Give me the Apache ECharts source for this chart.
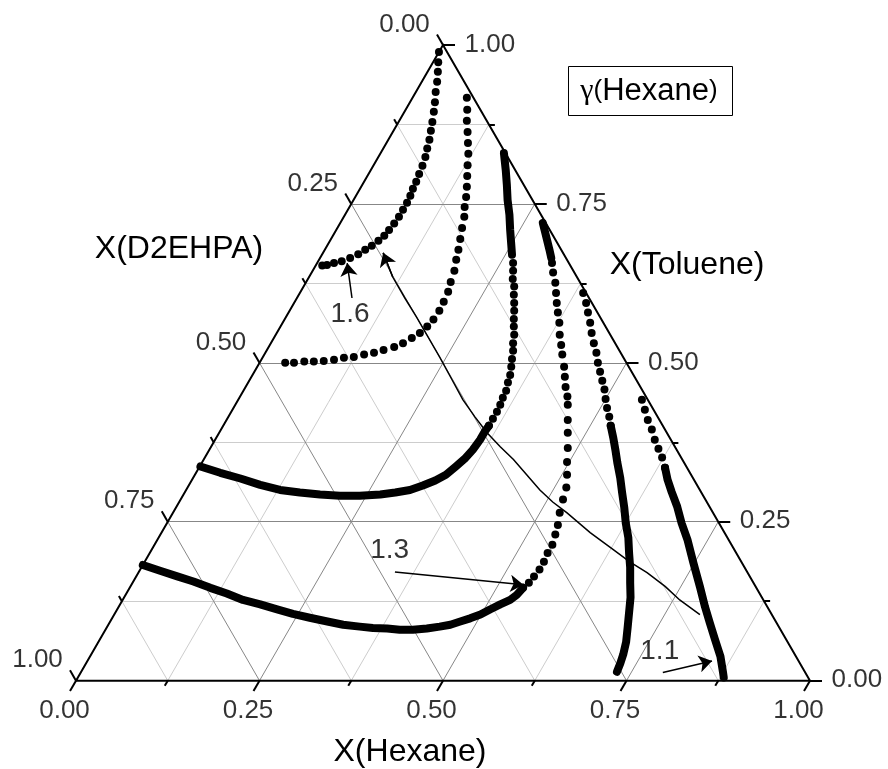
<!DOCTYPE html>
<html>
<head>
<meta charset="utf-8">
<script src="https://cdn.jsdelivr.net/npm/echarts@6/dist/echarts.min.js"></script>
<style>
  html, body { margin: 0; padding: 0; background: #fff; }
  #chart { width: 888px; height: 769px; }
</style>
</head>
<body>
<div id="chart"></div>
<script>
// Ternary compositions are stored as [x(Hexane), x(Toluene)]; x(D2EHPA) = 1 - both.

const tickValues = [0, 0.25, 0.5, 0.75, 1];
const tickLabels = ['0.00', '0.25', '0.50', '0.75', '1.00'];
const minorStep = 0.125;

// iso-activity curves of hexane, gamma = 1.6 ... 1.1
const gamma16Dots = [
  [0.000, 0.989], [0.007, 0.973], [0.014, 0.958], [0.021, 0.942], [0.027, 0.926], [0.034, 0.910],
  [0.040, 0.895], [0.046, 0.879], [0.051, 0.865], [0.056, 0.851], [0.060, 0.837], [0.064, 0.824],
  [0.067, 0.810], [0.069, 0.797], [0.071, 0.785], [0.072, 0.774], [0.074, 0.763], [0.075, 0.752],
  [0.075, 0.741], [0.075, 0.730], [0.074, 0.719], [0.072, 0.709], [0.070, 0.700], [0.066, 0.692],
  [0.061, 0.684], [0.055, 0.678], [0.049, 0.671], [0.041, 0.665], [0.032, 0.660], [0.023, 0.657],
  [0.015, 0.654], [0.009, 0.653]
];

const gamma15Dots = [
  [0.074, 0.917], [0.084, 0.898], [0.092, 0.881], [0.102, 0.863], [0.111, 0.846], [0.120, 0.829],
  [0.128, 0.811], [0.136, 0.794], [0.144, 0.777], [0.151, 0.761], [0.157, 0.745], [0.164, 0.730],
  [0.170, 0.712], [0.176, 0.695], [0.182, 0.678], [0.187, 0.662], [0.193, 0.645], [0.197, 0.627],
  [0.201, 0.612], [0.203, 0.596], [0.204, 0.582], [0.203, 0.568], [0.200, 0.557], [0.195, 0.547],
  [0.188, 0.539], [0.180, 0.531], [0.171, 0.525], [0.159, 0.520], [0.148, 0.516], [0.136, 0.513],
  [0.124, 0.509], [0.111, 0.508], [0.099, 0.505], [0.086, 0.503], [0.073, 0.502], [0.060, 0.502],
  [0.047, 0.500], [0.035, 0.500]
];

const gamma14BandTop = [
  [0.168, 0.830], [0.184, 0.803], [0.197, 0.780], [0.210, 0.756], [0.224, 0.733], [0.237, 0.709],
  [0.250, 0.686], [0.259, 0.670]
];
const gamma14Dots = [
  [0.267, 0.657], [0.273, 0.645], [0.279, 0.632], [0.287, 0.620], [0.293, 0.607], [0.300, 0.594],
  [0.306, 0.582], [0.312, 0.569], [0.318, 0.557], [0.325, 0.544], [0.330, 0.531], [0.336, 0.519],
  [0.341, 0.506], [0.346, 0.494], [0.351, 0.481], [0.354, 0.469], [0.358, 0.456], [0.359, 0.445],
  [0.361, 0.434], [0.362, 0.423], [0.362, 0.412], [0.362, 0.401]
];
const gamma14BandLow = [
  [0.362, 0.401], [0.361, 0.392], [0.361, 0.379], [0.359, 0.363], [0.355, 0.349], [0.349, 0.337],
  [0.342, 0.324], [0.332, 0.315], [0.319, 0.307], [0.305, 0.300], [0.287, 0.296], [0.268, 0.293],
  [0.241, 0.291], [0.214, 0.291], [0.186, 0.293], [0.157, 0.296], [0.128, 0.300], [0.097, 0.308],
  [0.065, 0.318], [0.033, 0.327], [0.001, 0.337]
];

const gamma13BandTop = [
  [0.276, 0.720], [0.286, 0.706], [0.296, 0.692], [0.306, 0.678], [0.315, 0.665]
];
const gamma13Dots = [
  [0.320, 0.657], [0.329, 0.642], [0.340, 0.626], [0.349, 0.610], [0.358, 0.594], [0.367, 0.579],
  [0.377, 0.563], [0.387, 0.544], [0.397, 0.528], [0.406, 0.513], [0.418, 0.494], [0.427, 0.478],
  [0.436, 0.462], [0.446, 0.447], [0.453, 0.434], [0.465, 0.410], [0.475, 0.390], [0.487, 0.366],
  [0.497, 0.344], [0.507, 0.324], [0.516, 0.304], [0.521, 0.285], [0.527, 0.264], [0.534, 0.245],
  [0.538, 0.230], [0.542, 0.214], [0.542, 0.201], [0.544, 0.187], [0.544, 0.175], [0.542, 0.164],
  [0.540, 0.154], [0.536, 0.146]
];
const gamma13BandLow = [
  [0.536, 0.146], [0.533, 0.135], [0.528, 0.127], [0.518, 0.120], [0.508, 0.112], [0.499, 0.104],
  [0.488, 0.098], [0.477, 0.093], [0.466, 0.088], [0.453, 0.085], [0.437, 0.082], [0.419, 0.080],
  [0.401, 0.080], [0.383, 0.082], [0.363, 0.083], [0.344, 0.085], [0.320, 0.088], [0.296, 0.093],
  [0.269, 0.099], [0.243, 0.105], [0.218, 0.112], [0.191, 0.120], [0.164, 0.127], [0.137, 0.137],
  [0.110, 0.146], [0.082, 0.156], [0.056, 0.164], [0.028, 0.173], [0.000, 0.182]
];

const gamma12Dots = [
  [0.386, 0.610], [0.398, 0.594], [0.408, 0.579], [0.419, 0.563], [0.429, 0.547], [0.440, 0.531],
  [0.451, 0.516], [0.461, 0.500], [0.471, 0.486], [0.481, 0.472], [0.491, 0.458], [0.500, 0.443],
  [0.509, 0.429], [0.519, 0.415], [0.528, 0.401]
];
const gamma12Band = [
  [0.528, 0.401], [0.541, 0.382], [0.554, 0.362], [0.566, 0.343], [0.582, 0.319], [0.596, 0.296],
  [0.611, 0.272], [0.625, 0.248], [0.640, 0.225], [0.653, 0.201], [0.666, 0.178], [0.678, 0.154],
  [0.690, 0.131], [0.700, 0.107], [0.710, 0.083], [0.719, 0.061], [0.725, 0.041], [0.728, 0.027],
  [0.730, 0.014]
];

const gamma11Dots = [
  [0.550, 0.442], [0.562, 0.426], [0.574, 0.410], [0.587, 0.395], [0.599, 0.379], [0.611, 0.365],
  [0.623, 0.351], [0.635, 0.335]
];
const gamma11Band = [
  [0.635, 0.335], [0.648, 0.316], [0.663, 0.297], [0.682, 0.274], [0.701, 0.248], [0.722, 0.222],
  [0.748, 0.186], [0.776, 0.148], [0.799, 0.116], [0.818, 0.091], [0.838, 0.065], [0.859, 0.038],
  [0.875, 0.013], [0.880, 0.005]
];

// direction of increasing gamma
const trendArrow = [
  [0.798, 0.104], [0.759, 0.127], [0.729, 0.148], [0.693, 0.170], [0.661, 0.187], [0.629, 0.206],
  [0.584, 0.233], [0.537, 0.264], [0.509, 0.281], [0.482, 0.300], [0.452, 0.324], [0.422, 0.348],
  [0.394, 0.368], [0.365, 0.390], [0.336, 0.415], [0.306, 0.442], [0.276, 0.473], [0.241, 0.509],
  [0.206, 0.544], [0.178, 0.572], [0.147, 0.602], [0.114, 0.635], [0.082, 0.673]
];

// curve labels: text, text anchor, arrow tail, arrow head
const curveLabels = ['1.6', '1.3', '1.1'];
const curveLabelAt = [[0.086, 0.576], [0.326, 0.204], [0.773, 0.046]];
const curveArrows = [
  [[0.075, 0.602], [0.041, 0.657]],
  [[0.349, 0.171], [0.534, 0.151]],
  [[0.793, 0.013], [0.851, 0.031]]
];

// ---- layout ----
const SIDE = 734;                    // triangle side in px
const H = SIDE * Math.sqrt(3) / 2;   // triangle height in px
const X0 = 76, Y0 = 45;              // left corner x, apex y
const PAD = 0.05;
const FONT = '"Liberation Sans", Arial, Helvetica, sans-serif';

// (hexane, toluene) -> cartesian (u, t)
const tern = p => [p[0] + p[1] / 2, p[1]];
const ternAll = arr => arr.map(tern);

// grid lines
const minorGrid = [], majorGrid = [];
for (let k = 1; k < 8; k++) {
  const v = k * minorStep;
  const target = (k % 2 === 0) ? majorGrid : minorGrid;
  target.push({ coords: [tern([0, v]), tern([1 - v, v])] });          // const toluene
  target.push({ coords: [tern([v, 0]), tern([v, 1 - v])] });          // const hexane
  target.push({ coords: [tern([1 - v, 0]), tern([0, 1 - v])] });      // const D2EHPA
}

// ticks (extensions of the grid lines beyond the frame)
const tickLines = [];
for (let k = 0; k <= 8; k++) {
  const v = k * minorStep;
  const s = (k % 2 === 0 ? 12 : 6) / SIDE;
  const b = tern([v, 0]);
  tickLines.push({ coords: [b, [b[0] - s / 2, -s]] });
  const l = tern([0, 1 - v]);
  tickLines.push({ coords: [l, [l[0] - s / 2, l[1] + s]] });
  const r = tern([1 - v, v]);
  tickLines.push({ coords: [r, [r[0] + s, r[1]]] });
}

const hiddenPoint = { color: 'rgba(0,0,0,0)' };

function labelSeries(points, names, position, align, size) {
  return {
    type: 'scatter', symbolSize: 1, itemStyle: hiddenPoint, silent: true, z: 5,
    data: points.map((p, i) => ({ value: tern(p), name: names[i] })),
    label: {
      show: true, color: '#000', fontSize: size, fontFamily: FONT,
      position: position, align: align, verticalAlign: 'middle',
      formatter: d => d.name
    }
  };
}

function dots(arr) {
  return {
    type: 'scatter', symbol: 'circle', symbolSize: 8, silent: true, z: 4,
    itemStyle: { color: '#000', opacity: 1 }, data: ternAll(arr)
  };
}
function band(arr) {
  return {
    type: 'line', symbol: 'none', silent: true, z: 4,
    lineStyle: { color: '#000', width: 8, cap: 'round', join: 'round', opacity: 1 },
    data: ternAll(arr)
  };
}
function arrowLines(list) {
  return {
    type: 'lines', coordinateSystem: 'cartesian2d', silent: true, z: 6,
    symbol: ['none', 'arrow'], symbolSize: [9, 13],
    lineStyle: { color: '#000', width: 1.5, opacity: 1 },
    data: list.map(a => ({ coords: ternAll(a) }))
  };
}

const option = {
  animation: false,
  backgroundColor: '#fff',
  grid: {
    left: X0 - PAD * SIDE, width: (1 + 2 * PAD) * SIDE,
    top: Y0 - PAD * H, height: (1 + 2 * PAD) * H
  },
  xAxis: { type: 'value', min: -PAD, max: 1 + PAD, show: false },
  yAxis: { type: 'value', min: -PAD, max: 1 + PAD, show: false },
  series: [
    { type: 'lines', coordinateSystem: 'cartesian2d', silent: true, z: 1,
      lineStyle: { color: '#cdcdcd', width: 1, opacity: 1 }, data: minorGrid },
    { type: 'lines', coordinateSystem: 'cartesian2d', silent: true, z: 1,
      lineStyle: { color: '#878787', width: 1, opacity: 1 }, data: majorGrid },
    { type: 'lines', coordinateSystem: 'cartesian2d', polyline: true, silent: true, z: 3,
      lineStyle: { color: '#000', width: 2, opacity: 1, join: 'miter' },
      data: [{ coords: ternAll([[0, 0], [1, 0], [0, 1], [0, 0]]) }] },
    { type: 'lines', coordinateSystem: 'cartesian2d', silent: true, z: 3,
      lineStyle: { color: '#000', width: 2, opacity: 1 }, data: tickLines },

    // tick labels
    labelSeries(tickValues.map(v => [v, 0]), tickLabels, [-11, 31], 'center', 26),
    labelSeries(tickValues.map(v => [0, 1 - v]), tickLabels, [-38, -20], 'center', 26),
    labelSeries(tickValues.map(v => [1 - v, v]), tickLabels, [22, 0], 'left', 26),

    // curves
    dots(gamma16Dots),
    dots(gamma15Dots),
    band(gamma14BandTop), dots(gamma14Dots), band(gamma14BandLow),
    band(gamma13BandTop), dots(gamma13Dots), band(gamma13BandLow),
    dots(gamma12Dots), band(gamma12Band),
    dots(gamma11Dots), band(gamma11Band),

    // trend curve: shaft plus arrow-headed last segment
    { type: 'lines', coordinateSystem: 'cartesian2d', polyline: true, silent: true, z: 6,
      lineStyle: { color: '#000', width: 1.5, opacity: 1 },
      data: [{ coords: ternAll(trendArrow) }] },
    arrowLines([trendArrow.slice(-2)]),
    arrowLines(curveArrows),
    labelSeries(curveLabelAt, curveLabels, [0, 0], 'center', 28)
  ],
  graphic: [
    { type: 'text', x: 410, y: 752, style: { text: 'X(Hexane)', font: '32px ' + FONT, fill: '#000', align: 'center', verticalAlign: 'middle' } },
    { type: 'text', x: 179, y: 249, style: { text: 'X(D2EHPA)', font: '32px ' + FONT, fill: '#000', align: 'center', verticalAlign: 'middle' } },
    { type: 'text', x: 687, y: 265, style: { text: 'X(Toluene)', font: '32px ' + FONT, fill: '#000', align: 'center', verticalAlign: 'middle' } },
    { type: 'rect', shape: { x: 568.5, y: 66.5, width: 164, height: 49 },
      style: { fill: '#fff', stroke: '#000', lineWidth: 1 } },
    { type: 'text', x: 649, y: 91,
      style: {
        text: '{g|γ}{p|(}{h|Hexane}{p|)}', fill: '#000',
        align: 'center', verticalAlign: 'middle',
        rich: {
          g: { fontFamily: '"Liberation Serif", "DejaVu Serif", serif', fontSize: 30, fill: '#000' },
          p: { fontFamily: FONT, fontSize: 26, fill: '#000' },
          h: { fontFamily: FONT, fontSize: 31, fill: '#000' }
        }
      } }
  ]
};

const chart = echarts.init(document.getElementById('chart'), null, { renderer: 'canvas' });
chart.setOption(option);
</script>
</body>
</html>
